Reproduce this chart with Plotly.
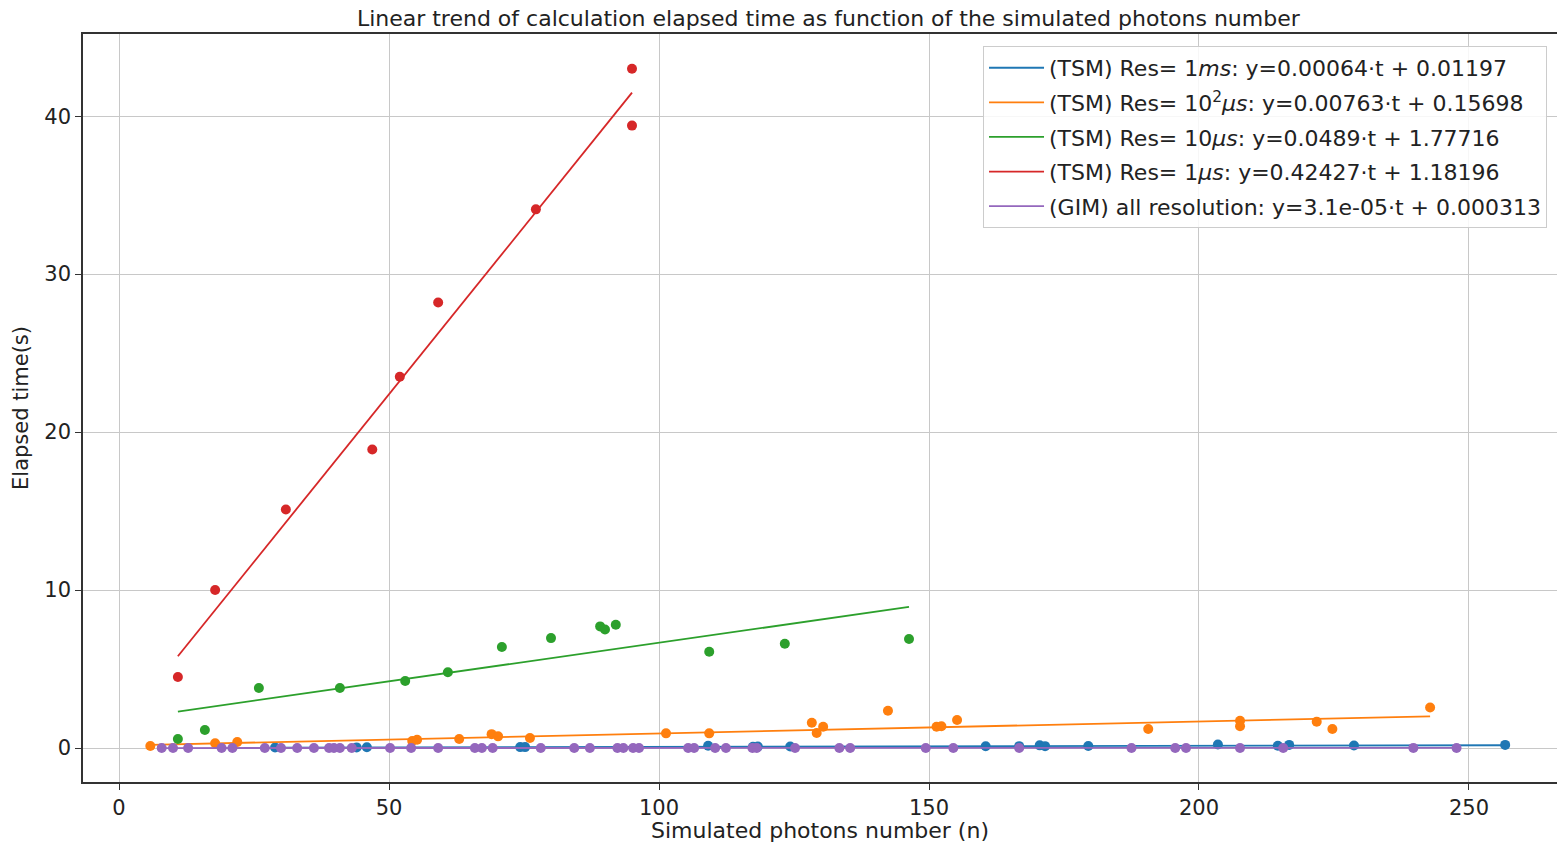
import plotly.graph_objects as go

# ---- data ----
blue_x = [28.9, 44.0, 45.9, 74.3, 75.2, 109.1, 117.4, 118.3, 124.3, 160.5, 166.7, 170.5,
          171.5, 179.5, 203.5, 214.6, 216.7, 228.7, 256.7]
blue_y = [0.03, 0.04, 0.05, 0.06, 0.06, 0.15, 0.08, 0.09, 0.10, 0.11, 0.12, 0.17,
          0.12, 0.13, 0.22, 0.15, 0.20, 0.16, 0.20]

orange_x = [5.8, 17.8, 21.9, 54.3, 55.2, 63.0, 69.0, 70.2, 76.1, 101.3, 109.3, 128.3,
            129.2, 130.4, 142.4, 151.4, 152.3, 155.2, 190.6, 207.6, 207.6, 221.8, 224.7, 242.8]
orange_y = [0.13, 0.30, 0.38, 0.45, 0.52, 0.57, 0.88, 0.74, 0.63, 0.93, 0.93, 1.60,
            0.95, 1.35, 2.36, 1.35, 1.38, 1.77, 1.20, 1.73, 1.38, 1.67, 1.20, 2.57]

green_x = [10.9, 15.9, 25.9, 40.9, 53.0, 60.9, 70.9, 80.0, 89.1, 90.0, 92.0, 109.3, 123.3, 146.3]
green_y = [0.57, 1.14, 3.80, 3.80, 4.24, 4.80, 6.40, 6.96, 7.70, 7.50, 7.80, 6.10, 6.60, 6.90]

red_x = [10.9, 17.8, 30.9, 46.9, 52.0, 59.1, 77.2, 95.0, 95.0]
red_y = [4.5, 10.0, 15.1, 18.9, 23.5, 28.2, 34.1, 39.4, 43.0]

purple_x = [7.9, 10.0, 12.8, 19.0, 21.0, 27.0, 30.0, 33.0, 36.1, 38.9, 39.8, 40.9, 43.1,
            50.2, 54.1, 59.1, 65.9, 67.2, 69.2, 78.1, 84.3, 87.2, 92.3, 93.4, 95.2, 96.3,
            105.4, 106.5, 110.4, 112.4, 117.3, 118.1, 125.2, 133.4, 135.4, 149.4, 154.5,
            166.7, 187.5, 195.6, 197.6, 207.6, 215.6, 239.7, 247.7]
purple_y = [0.001, 0.002, 0.001, 0.003, 0.002, 0.001, 0.002, 0.003, 0.002, 0.001, 0.002, 0.003,
            0.002, 0.001, 0.002, 0.003, 0.002, 0.001, 0.002, 0.003, 0.002, 0.001, 0.002, 0.003,
            0.002, 0.001, 0.004, 0.003, 0.004, 0.005, 0.004, 0.005, 0.004, 0.005, 0.004, 0.006,
            0.005, 0.006, 0.007, 0.006, 0.007, 0.006, 0.007, 0.008, 0.007]

# fit coefficients (slope, intercept) from the legend
fits = {
    "blue": (0.00064, 0.01197),
    "orange": (0.00763, 0.15698),
    "green": (0.0489, 1.77716),
    "red": (0.42427, 1.18196),
    "purple": (3.1e-05, 0.000313),
}

labels = {
    "blue": "(TSM) Res= 1<i>ms</i>: y=0.00064·t + 0.01197",
    "orange": "(TSM) Res= 10<sup>2</sup><i>μs</i>: y=0.00763·t + 0.15698",
    "green": "(TSM) Res= 10<i>μs</i>: y=0.0489·t + 1.77716",
    "red": "(TSM) Res= 1<i>μs</i>: y=0.42427·t + 1.18196",
    "purple": "(GIM) all resolution: y=3.1e-05·t + 0.000313",
}

colors = {
    "blue": "#1f77b4",
    "orange": "#ff7f0e",
    "green": "#2ca02c",
    "red": "#d62728",
    "purple": "#9467bd",
}

series = {
    "blue": (blue_x, blue_y),
    "orange": (orange_x, orange_y),
    "green": (green_x, green_y),
    "red": (red_x, red_y),
    "purple": (purple_x, purple_y),
}

fig = go.Figure()
for key in ["blue", "orange", "green", "red", "purple"]:
    xs, ys = series[key]
    c = colors[key]
    fig.add_trace(go.Scatter(x=xs, y=ys, mode="markers", legendgroup=key,
                             marker=dict(color=c, size=10, line=dict(width=0)),
                             showlegend=False, hoverinfo="x+y"))
    m, b = fits[key]
    lx = [min(xs), max(xs)]
    ly = [m * v + b for v in lx]
    fig.add_trace(go.Scatter(x=lx, y=ly, mode="lines", legendgroup=key,
                             line=dict(color=c, width=1.8), name=labels[key]))

font_family = "DejaVu Sans"
txt = "#222222"
fig.update_layout(
    width=1557, height=843,
    margin=dict(l=83, r=0, t=34, b=61),
    paper_bgcolor="white", plot_bgcolor="white",
    font=dict(family=font_family, size=21, color=txt),
    title=dict(text="Linear trend of calculation elapsed time as function of the simulated photons number",
               x=0.532, xanchor="center", y=0.978, yanchor="middle",
               font=dict(size=22, family=font_family, color=txt)),
    showlegend=True,
    legend=dict(x=0.6106, y=0.984, xanchor="left", yanchor="top",
                bgcolor="rgba(255,255,255,0.85)", bordercolor="#cccccc", borderwidth=1,
                font=dict(size=22, family=font_family, color=txt),
                tracegroupgap=3, itemwidth=55),
)
fig.update_xaxes(range=[-6.67, 266.3], tickvals=[0, 50, 100, 150, 200, 250],
                 showgrid=True, gridcolor="#c8c8c8", gridwidth=1.3,
                 showline=True, linecolor="#333333", linewidth=1.6, mirror=True,
                 ticks="outside", ticklen=6, tickcolor="#333333", zeroline=False,
                 title=dict(text="Simulated photons number (n)", standoff=6,
                            font=dict(size=22)),
                 tickfont=dict(size=21))
fig.update_yaxes(range=[-2.15, 45.2], tickvals=[0, 10, 20, 30, 40],
                 showgrid=True, gridcolor="#c8c8c8", gridwidth=1.3,
                 showline=True, linecolor="#333333", linewidth=1.6, mirror=False,
                 ticks="outside", ticklen=6, tickcolor="#333333", zeroline=False,
                 title=dict(text="Elapsed time(s)", standoff=10, font=dict(size=21)),
                 tickfont=dict(size=21))

fig.write_html("out.html")
